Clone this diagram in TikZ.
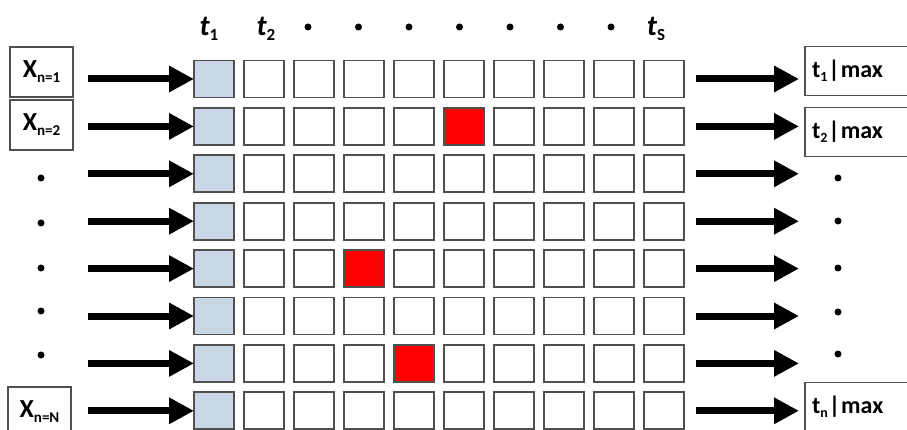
\documentclass[tikz,border=0pt]{standalone}
\usepackage{fontspec}
\setmainfont{Carlito}
\usetikzlibrary{arrows.meta}
\definecolor{cellblue}{RGB}{200,214,229}
\definecolor{cellred}{RGB}{255,0,0}
\definecolor{edgegray}{RGB}{80,80,80}
\newcommand{\xsub}[1]{{\fontsize{26}{26}\selectfont\bfseries X\raisebox{-5pt}{\fontsize{15}{15}\selectfont #1}}}
\newcommand{\tmax}[1]{{\fontsize{24}{24}\selectfont\bfseries t\raisebox{-4pt}{\fontsize{14}{14}\selectfont #1}\kern1pt|\kern1pt max}}
\newcommand{\ttop}[1]{{\fontsize{29}{29}\selectfont\bfseries\itshape t\raisebox{-5pt}{\fontsize{17}{17}\selectfont\upshape #1}}}
\begin{document}
\begin{tikzpicture}[x=1pt,y=-1pt,
  cell/.style={draw=edgegray, line width=1.8pt, minimum width=40pt, minimum height=37pt, inner sep=0pt, outer sep=0pt},
  lbox/.style={draw=edgegray, line width=1.4pt, fill=white, minimum width=63pt, minimum height=50pt, inner sep=0pt},
  rbox/.style={draw=edgegray, line width=1.4pt, fill=white, minimum height=49pt, text width=106pt, align=left, inner xsep=7pt, inner ysep=0pt},
  dotn/.style={circle, fill=black, minimum size=7pt, inner sep=0pt},
  bigarrow/.style={line width=7pt, -{Triangle[length=25pt,width=25pt]}},
  toplab/.style={inner sep=0pt}]
\useasboundingbox (0,0) rectangle (907,430);
\clip (0,0) rectangle (907,430);
% grid
\foreach \r in {1,...,8}{
  \foreach \c in {1,...,10}{
    \node[cell] (c-\r-\c) at ({214+(\c-1)*50},{79+(\r-1)*47.4}) {};
  }
}
\foreach \r in {1,...,8}{\node[cell, fill=cellblue] at (c-\r-1) {};}
\node[cell, fill=cellred] at (c-2-6) {};
\node[cell, fill=cellred] at (c-5-4) {};
\node[cell, fill=cellred] at (c-7-5) {};
% top labels
\node[toplab] (t1) at (209,29) {\ttop{1}};
\node[toplab] (t2) at (266,29) {\ttop{2}};
\foreach \i in {0,...,6}{\node[dotn] (td-\i) at ({308+\i*50.5},27) {};}
\node[toplab] (tS) at (656,29) {\ttop{S}};
% left boxes
\node[lbox] (x1) at (41.5,72) {\xsub{n=1}};
\node[lbox] (x2) at (41.5,125) {\xsub{n=2}};
\node[lbox] (xN) at (39.5,412) {\xsub{n=N}};
\node[dotn] (ld-1) at (41,178) {};
\node[dotn] (ld-2) at (41,223) {};
\node[dotn] (ld-3) at (41,268) {};
\node[dotn] (ld-4) at (41,311) {};
\node[dotn] (ld-5) at (41,355) {};
% right boxes
\node[rbox] (r1) at (865,71) {\tmax{1}};
\node[rbox] (r2) at (865,132) {\tmax{2}};
\node[rbox] (rN) at (865,407) {\tmax{n}};
\node[dotn] (rd-1) at (838,178) {};
\node[dotn] (rd-2) at (838,221) {};
\node[dotn] (rd-3) at (838,268) {};
\node[dotn] (rd-4) at (838,312) {};
\node[dotn] (rd-5) at (838,354) {};
% arrows
\foreach \r in {1,...,8}{
  \coordinate (la-\r) at (88,{79+(\r-1)*47.4});
  \coordinate (ra-\r) at (799,{79+(\r-1)*47.4});
  \draw[bigarrow] (la-\r) -- (c-\r-1.west);
  \draw[bigarrow] ([xshift=12pt]c-\r-10.east) -- (ra-\r);
}
\end{tikzpicture}
\end{document}
